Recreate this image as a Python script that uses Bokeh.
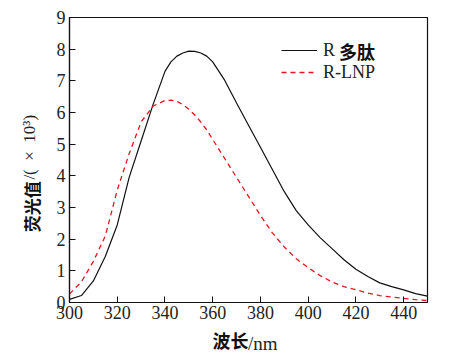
from bokeh.plotting import figure
from bokeh.models import ColumnDataSource, Legend, LegendItem, FixedTicker, Range1d, LinearAxis, Label
from bokeh.embed import file_html
from bokeh.resources import INLINE

# ---- data ----
wavelength = [300, 305, 310, 315, 320, 325, 330, 335, 340, 342.5, 345, 347.5, 350, 352.5, 355, 357.5, 360, 365,
              370, 375, 380, 385, 390, 395, 400, 405, 410, 415, 420, 425, 430, 435, 440, 445, 450]
r_peptide = [0.10, 0.22, 0.68, 1.45, 2.45, 3.95, 5.10, 6.25, 7.30, 7.60, 7.78, 7.88, 7.94, 7.93, 7.88, 7.78, 7.60, 7.02,
             6.30, 5.60, 4.90, 4.20, 3.50, 2.90, 2.45, 2.05, 1.70, 1.35, 1.05, 0.82, 0.62, 0.50, 0.40, 0.28, 0.20]
r_lnp = [0.27, 0.65, 1.30, 2.10, 3.55, 4.70, 5.70, 6.20, 6.38, 6.39, 6.35, 6.25, 6.10, 5.92, 5.70, 5.45, 5.15, 4.55,
         3.95, 3.35, 2.75, 2.20, 1.75, 1.38, 1.10, 0.85, 0.65, 0.50, 0.40, 0.30, 0.22, 0.17, 0.13, 0.09, 0.06]
x_ticks = [300, 320, 340, 360, 380, 400, 420, 440]
y_ticks = [0, 1, 2, 3, 4, 5, 6, 7, 8, 9]
legend_latin = ["R", "R-LNP"]
legend_cjk = "多肽"
x_title_cjk, x_title_latin = "波长", "/nm"
y_title_cjk, y_title_latin = "荧光值", "/(\u2002×\u200210³)"

SERIF = "Liberation Serif"
CJK = "Noto Sans CJK SC"
RED = "#e8141e"
INK = "#111111"

p = figure(width=453, height=359, output_backend="svg", toolbar_location=None,
           x_range=Range1d(300, 450), y_range=Range1d(0, 9),
           min_border_left=69, min_border_right=26, min_border_top=17, min_border_bottom=57)
p.background_fill_color = "white"
p.border_fill_color = "white"
p.grid.visible = False
p.outline_line_color = INK
p.outline_line_width = 1.2

src = ColumnDataSource(dict(x=wavelength, a=r_peptide, b=r_lnp))
l1 = p.line("x", "a", source=src, line_color=INK, line_width=1.2)
l2 = p.line("x", "b", source=src, line_color=RED, line_width=1.3, line_dash="5 4")

for ax in (p.xaxis[0], p.yaxis[0]):
    ax.axis_line_color = INK
    ax.axis_line_width = 1.2
    ax.major_tick_line_color = INK
    ax.major_tick_in = 6
    ax.major_tick_out = 0
    ax.minor_tick_in = 0
    ax.minor_tick_out = 0
    ax.major_label_text_font = SERIF
    ax.major_label_text_font_size = "18px"
    ax.major_label_text_color = "#222222"
    ax.axis_label_text_font = CJK
    ax.axis_label_text_font_style = "bold"
    ax.axis_label_text_color = INK

p.xaxis.ticker = FixedTicker(ticks=x_ticks)
p.yaxis.ticker = FixedTicker(ticks=y_ticks)
p.xaxis.major_label_standoff = 3
p.yaxis.major_label_standoff = 4

# bold CJK part of the titles on the main axes (padded so that it sits left of / below the centre)
p.xaxis.axis_label = x_title_cjk + "\u3000" * 2
p.xaxis.axis_label_text_font_size = "18px"
p.xaxis.axis_label_standoff = 5
p.yaxis.axis_label = y_title_cjk + "\u3000" * 5 + "\u2002"
p.yaxis.axis_label_text_font_size = "17px"
p.yaxis.axis_label_standoff = 10


def latin_axis(label, size, standoff):
    ax = LinearAxis(ticker=FixedTicker(ticks=[]), axis_line_color=None,
                    major_tick_in=0, major_tick_out=0, minor_tick_in=0, minor_tick_out=0,
                    major_label_standoff=0, axis_label=label,
                    axis_label_text_font=SERIF, axis_label_text_font_style="normal",
                    axis_label_text_font_size=size, axis_label_text_color="#222222",
                    axis_label_standoff=standoff)
    return ax


p.add_layout(latin_axis("\u00a0" * 6 + x_title_latin, "19px", -23), "below")
p.add_layout(latin_axis("\u00a0" * 6 + y_title_latin, "17px", -23), "left")

legend = Legend(items=[LegendItem(label=legend_latin[0], renderers=[l1]),
                       LegendItem(label=legend_latin[1], renderers=[l2])],
                location=(212, 219), orientation="vertical")
legend.label_text_font = SERIF
legend.label_text_font_size = "18px"
legend.label_text_color = "#222222"
legend.glyph_width = 36
legend.glyph_height = 22
legend.label_height = 22
legend.label_standoff = 6
legend.spacing = 0
legend.padding = 0
legend.margin = 0
legend.border_line_color = None
legend.background_fill_alpha = 0
p.add_layout(legend)
p.add_layout(Label(x=269.5, y=252, x_units="screen", y_units="screen", text=legend_cjk,
                   text_font=CJK, text_font_style="bold", text_font_size="18px",
                   text_align="left", text_baseline="middle", text_color=INK))

open("out.html", "w").write(file_html(p, INLINE))
